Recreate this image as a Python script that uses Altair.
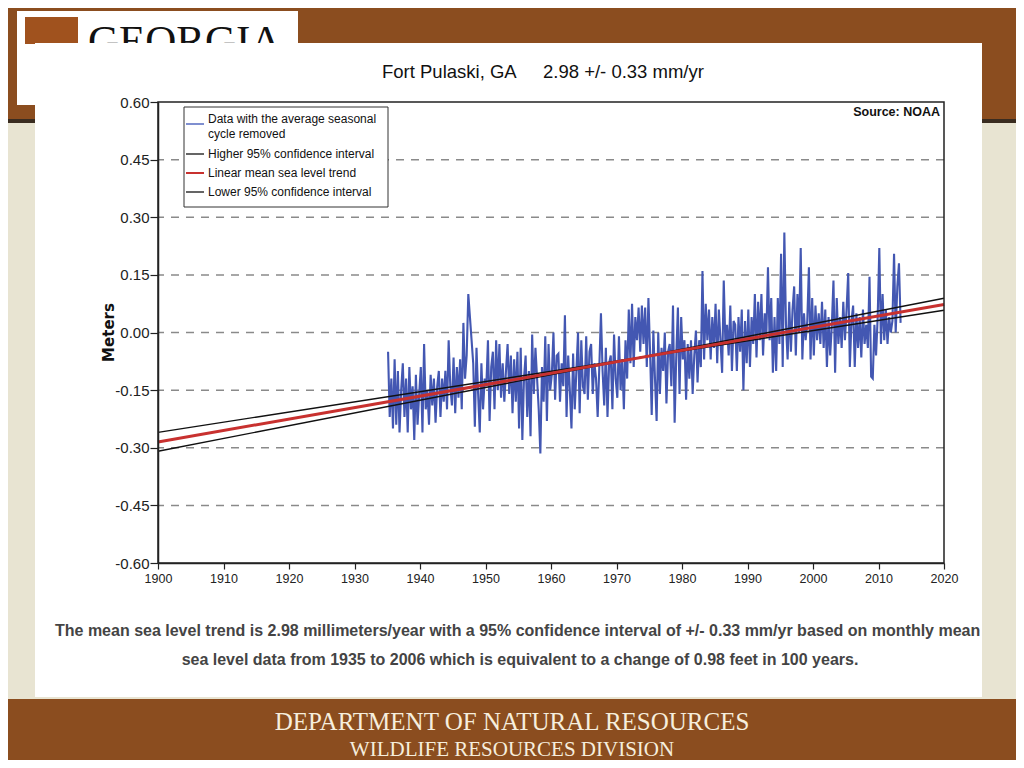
import altair as alt
import pandas as pd

# ---------------- data ----------------
series_start = 1935.0          # first monthly-mean sample (quarterly estimates below)
sea_level_m = [
    -0.05, -0.22, -0.12, -0.25,   # 1935
    -0.07, -0.24, -0.10, -0.26,   # 1936
    -0.15, -0.08, -0.22, -0.12,   # 1937
    -0.26, -0.09, -0.20, -0.14,   # 1938
    -0.28, -0.11, -0.24, -0.16,   # 1939
    -0.09, -0.26, -0.03, -0.20,   # 1940
    -0.15, -0.24, -0.11, -0.19,   # 1941
    -0.12, -0.235, -0.14, -0.10,  # 1942
    -0.22, -0.12, -0.18, -0.10,   # 1943
    -0.20, -0.02, -0.14, -0.19,   # 1944
    -0.065, -0.21, -0.09, -0.17,  # 1945
    -0.07, -0.20, 0.025, -0.12,   # 1946
    -0.06, 0.10, 0.04, -0.02,     # 1947
    -0.08, -0.245, -0.04, -0.16,  # 1948
    -0.26, -0.08, -0.20, -0.12,   # 1949
    -0.14, -0.02, -0.23, -0.09,   # 1950
    -0.05, -0.20, -0.02, -0.15,   # 1951
    -0.03, -0.17, -0.08, -0.18,   # 1952
    -0.10, -0.03, -0.16, -0.06,   # 1953
    -0.21, -0.07, -0.18, -0.05,   # 1954
    -0.25, -0.04, -0.28, -0.12,   # 1955
    -0.06, -0.22, -0.10, -0.27,   # 1956
    -0.005, -0.16, -0.04, -0.12,  # 1957
    -0.20, -0.315, -0.09, -0.18,  # 1958
    -0.01, -0.23, -0.03, -0.15,   # 1959
    -0.11, 0.0, -0.175, -0.06,    # 1960
    -0.055, -0.18, -0.08, -0.14,  # 1961
    0.045, -0.22, -0.06, -0.15,   # 1962
    -0.25, -0.055, -0.20, -0.10,  # 1963
    0.0, -0.21, -0.02, -0.14,     # 1964
    -0.16, -0.01, -0.175, -0.05,  # 1965
    -0.03, -0.16, -0.08, -0.12,   # 1966
    -0.22, -0.09, 0.05, -0.10,    # 1967
    -0.19, -0.04, -0.22, -0.08,   # 1968
    -0.06, -0.20, -0.005, -0.12,  # 1969
    -0.17, -0.01, -0.15, -0.07,   # 1970
    -0.20, -0.02, -0.12, 0.06,    # 1971
    -0.08, 0.075, -0.09, 0.04,    # 1972
    -0.02, 0.065, -0.05, 0.07,    # 1973
    -0.03, 0.065, -0.09, 0.09,    # 1974
    -0.05, -0.215, 0.005, -0.12,  # 1975
    -0.23, 0.0, -0.16, -0.04,     # 1976
    -0.10, 0.0, -0.185, -0.05,    # 1977
    -0.03, -0.14, 0.07, -0.235,   # 1978
    -0.06, 0.065, -0.16, 0.04,    # 1979
    -0.07, -0.02, -0.175, -0.03,  # 1980
    -0.12, -0.02, -0.16, -0.06,   # 1981
    0.005, -0.13, -0.02, -0.09,   # 1982
    0.16, -0.07, 0.075, -0.02,    # 1983
    0.06, -0.07, 0.04, -0.04,     # 1984
    0.075, -0.08, 0.06, -0.02,    # 1985
    -0.105, 0.135, -0.03, 0.02,   # 1986
    -0.06, 0.07, -0.10, 0.03,     # 1987
    0.02, -0.10, 0.04, -0.05,     # 1988
    0.06, -0.15, 0.03, -0.08,     # 1989
    0.06, -0.09, 0.04, -0.03,     # 1990
    0.10, -0.065, 0.08, -0.02,    # 1991
    0.10, -0.06, 0.05, -0.01,     # 1992
    0.17, -0.02, 0.09, -0.105,    # 1993
    0.04, -0.10, 0.09, -0.03,     # 1994
    0.205, -0.09, 0.26, 0.02,     # 1995
    -0.07, 0.08, -0.05, 0.06,     # 1996
    0.12, -0.06, 0.10, 0.00,      # 1997
    0.22, -0.07, 0.05, -0.02,     # 1998
    0.03, 0.17, -0.07, 0.09,      # 1999
    -0.06, 0.07, -0.02, 0.05,     # 2000
    -0.03, 0.08, -0.04, 0.06,     # 2001
    -0.09, 0.04, -0.06, 0.02,     # 2002
    0.135, -0.105, 0.09, -0.03,   # 2003
    0.04, -0.04, 0.08, -0.02,     # 2004
    0.06, 0.155, -0.09, 0.03,     # 2005
    0.07, -0.09, 0.05, -0.04,     # 2006
    0.04, -0.065, 0.06, -0.03,    # 2007
    0.02, -0.04, 0.145, -0.115,   # 2008
    -0.12, 0.02, -0.06, 0.04,     # 2009
    0.22, -0.03, 0.10, -0.02,     # 2010
    0.06, -0.03, 0.04, 0.0,       # 2011
    0.03, 0.205, 0.00, 0.12,      # 2012
    0.18, 0.025,                  # 2013
]

trend_years = [1900, 2020]
trend_mean = [-0.285, 0.073]
ci_higher = [-0.309, 0.089]
ci_lower = [-0.260, 0.058]

grid_levels = [-0.45, -0.30, -0.15, 0.0, 0.15, 0.30, 0.45]
y_ticks = [-0.60, -0.45, -0.30, -0.15, 0.0, 0.15, 0.30, 0.45, 0.60]
x_ticks = list(range(1900, 2021, 10))

legend_labels = [
    "Data with the average seasonal",
    "cycle removed",
    "Higher 95% confidence interval",
    "Linear mean sea level trend",
    "Lower 95% confidence interval",
]
title_station = "Fort Pulaski, GA"
title_rate = "2.98 +/- 0.33 mm/yr"
source_text = "Source: NOAA"
desc_line1 = ("The mean sea level trend is 2.98 millimeters/year with a 95% confidence "
              "interval of +/- 0.33 mm/yr based on monthly mean")
desc_line2 = "sea level data from 1935 to 2006 which is equivalent to a change of 0.98 feet in 100 years."
footer_line1 = "DEPARTMENT OF NATURAL RESOURCES"
footer_line2 = "WILDLIFE RESOURCES DIVISION"
logo_text = "GEORGIA"

# ---------------- tables ----------------
data_df = pd.DataFrame({
    "t": [series_start + 0.125 + i * 0.25 for i in range(len(sea_level_m))],
    "level": sea_level_m,
})
ci_df = pd.DataFrame({
    "year": trend_years * 2,
    "value": ci_higher + ci_lower,
    "series": ["higher"] * 2 + ["lower"] * 2,
})
mean_df = pd.DataFrame({"year": trend_years, "value": trend_mean})
grid_df = pd.DataFrame({"level": grid_levels})

# ---------------- styles ----------------
SANS = "Liberation Sans, Arial, sans-serif"
BROWN = "#8B4D1F"
BEIGE = "#E8E4D2"
W, H = 786, 461

x_axis = alt.Axis(values=x_ticks, format="d", title=None, grid=False,
                  tickSize=6, tickColor="#222", tickWidth=1.2,
                  domainColor="#222", domainWidth=1.5,
                  labelFont=SANS, labelFontSize=12.5, labelColor="#222",
                  labelPadding=3, labelFlush=False, zindex=1)
y_axis = alt.Axis(values=y_ticks,
                  labelExpr="(datum.value < -0.0001 ? '-' : '') + format(abs(datum.value), '.2f')",
                  title="Meters", titleFont="DejaVu Sans", titleFontSize=15,
                  titleFontWeight="bold", titleColor="#111", titleAngle=270,
                  titleX=-50, titleY=230, titleAlign="center", titleBaseline="middle",
                  grid=False, tickSize=8, tickColor="#222", tickWidth=1.2,
                  domainColor="#222", domainWidth=1.5,
                  labelFont=SANS, labelFontSize=15, labelColor="#222",
                  labelPadding=1, labelFlush=False, zindex=1)


def X(field):
    return alt.X(f"{field}:Q", scale=alt.Scale(domain=[1900, 2020], nice=False, zero=False), axis=x_axis)


def Y(field):
    return alt.Y(f"{field}:Q", scale=alt.Scale(domain=[-0.6, 0.6], nice=False, zero=False), axis=y_axis)


one = alt.Data(values=[{"k": 1}])


def box(x1, x2, y1, y2, **kw):
    return alt.Chart(one).mark_rect(**kw).encode(
        x=alt.value(x1), x2=alt.value(x2), y=alt.value(y1), y2=alt.value(y2))


def label(txt, x, y, **kw):
    return alt.Chart(one).mark_text(text=txt, **kw).encode(x=alt.value(x), y=alt.value(y))


def seg(x1, x2, y, color, width):
    return alt.Chart(one).mark_rule(color=color, strokeWidth=width).encode(
        x=alt.value(x1), x2=alt.value(x2), y=alt.value(y))


# ---------------- slide decoration ----------------
layers = [
    box(-170, 880, -110, 17, color=BROWN),
    box(-170, 880, 17, 21, color="#3a2c20"),
    box(-170, 880, 597, 680, color=BROWN),
    box(-141, 140, -91, 3, color="white"),
    box(-133, -80, -85, -58, color="#A0521E"),
    label(logo_text, -70, -47, font="Liberation Serif", fontSize=43, color="#111",
          align="left", baseline="alphabetic"),
    label(footer_line1, 354, 620, font="Liberation Serif", fontSize=25, color="#F6EEDD",
          align="center", baseline="middle"),
    label(footer_line2, 354, 648, font="Liberation Serif", fontSize=21, color="#F6EEDD",
          align="center", baseline="middle"),
    box(-123, 824, -59, 595, color="white"),
]

# ---------------- plot ----------------
grid = alt.Chart(grid_df).mark_rule(color="#8a8a8a", strokeDash=[8, 7], strokeWidth=1.5).encode(y=Y("level"))
series = alt.Chart(data_df).mark_line(color="#4357B2", strokeWidth=2.1).encode(x=X("t"), y=Y("level"))
ci = alt.Chart(ci_df).mark_line(color="#111", strokeWidth=1.4).encode(x=X("year"), y=Y("value"), detail="series:N")
mean = alt.Chart(mean_df).mark_line(color="#C8312F", strokeWidth=3).encode(x=X("year"), y=Y("value"))
frame = box(0, W, 0, H, filled=False, stroke="#222", strokeWidth=1.5)

layers += [grid, series, ci, mean, frame]

# ---------------- legend ----------------
layers += [
    box(26, 230, 5, 105, fill="white", stroke="#333", strokeWidth=1),
    seg(28, 46, 22, "#7F8FD0", 2),
    seg(28, 46, 52, "#111", 1.3),
    seg(28, 46, 71, "#C8312F", 2),
    seg(28, 46, 90, "#111", 1.3),
]
legend_y = [17, 32, 52, 71, 90]
for txt, ly in zip(legend_labels, legend_y):
    layers.append(label(txt, 50, ly, font=SANS, fontSize=12, color="#111",
                        align="left", baseline="middle"))

# ---------------- titles and notes ----------------
layers += [
    label(title_station, 224, -30, font=SANS, fontSize=18.5, color="#111", align="left", baseline="middle"),
    label(title_rate, 385, -30, font=SANS, fontSize=18.5, color="#111", align="left", baseline="middle"),
    label(source_text, 782, 10, font=SANS, fontSize=12.5, fontWeight="bold", color="#111",
          align="right", baseline="middle"),
    label(desc_line1, -103, 529, font=SANS, fontSize=16, fontWeight="bold", color="#444",
          align="left", baseline="middle"),
    label(desc_line2, 362, 558, font=SANS, fontSize=16, fontWeight="bold", color="#444",
          align="center", baseline="middle"),
    box(824, 880, 500, 590, color=BEIGE),
]

chart = alt.layer(*layers).properties(
    width=W, height=H,
    autosize=alt.AutoSizeParams(type="none"),
    padding={"left": 150, "top": 94, "right": 72, "bottom": 197},
    background=BEIGE,
).configure_view(stroke=None)

chart.save("out.html", embed_options={"renderer": "svg", "actions": False})
